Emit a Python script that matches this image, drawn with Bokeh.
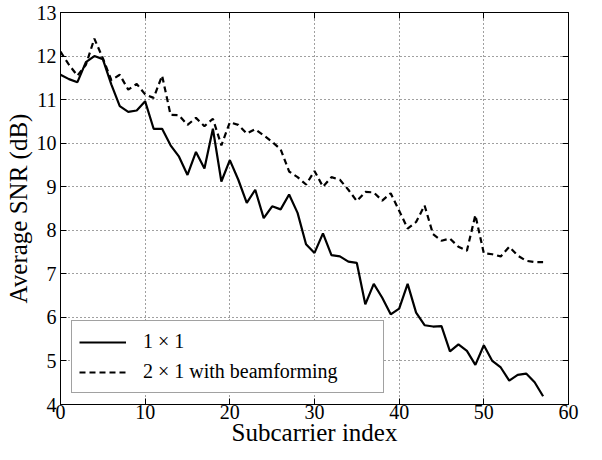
from bokeh.plotting import figure
from bokeh.models import LinearAxis, FixedTicker, Legend, LegendItem, Range1d
from bokeh.embed import file_html
from bokeh.resources import INLINE

subcarrier = list(range(58))
snr_1x1 = [11.57, 11.47, 11.40, 11.86, 12.00, 11.93, 11.35, 10.85, 10.72, 10.75,
           10.96, 10.33, 10.33, 9.95, 9.69, 9.27, 9.80, 9.42, 10.33, 9.12,
           9.61, 9.16, 8.63, 8.93, 8.28, 8.55, 8.48, 8.82, 8.40, 7.68,
           7.48, 7.93, 7.43, 7.40, 7.28, 7.25, 6.30, 6.77, 6.45, 6.07,
           6.20, 6.77, 6.11, 5.82, 5.79, 5.80, 5.22, 5.38, 5.23, 4.91,
           5.36, 5.00, 4.85, 4.55, 4.68, 4.71, 4.51, 4.19]
snr_2x1_bf = [12.10, 11.80, 11.55, 11.80, 12.40, 11.95, 11.45, 11.57, 11.23, 11.36,
              11.12, 11.04, 11.55, 10.65, 10.64, 10.42, 10.58, 10.39, 10.56, 9.95,
              10.48, 10.42, 10.22, 10.32, 10.18, 10.03, 9.86, 9.35, 9.22, 9.05,
              9.36, 9.00, 9.22, 9.16, 8.93, 8.67, 8.88, 8.87, 8.68, 8.85,
              8.45, 8.04, 8.19, 8.57, 7.91, 7.76, 7.81, 7.62, 7.53, 8.35,
              7.47, 7.45, 7.40, 7.62, 7.42, 7.30, 7.27, 7.27]
x_ticks = [0, 10, 20, 30, 40, 50, 60]
y_ticks = [4, 5, 6, 7, 8, 9, 10, 11, 12, 13]
labels = ["1 \u00d7 1", "2 \u00d7 1 with beamforming"]

FONT = "Liberation Serif"

p = figure(width=594, height=452, output_backend="svg", toolbar_location=None,
           x_range=Range1d(0, 60), y_range=Range1d(4, 13),
           min_border_left=60, min_border_right=26, min_border_top=12,
           min_border_bottom=48)
p.background_fill_color = "white"
p.border_fill_color = "white"
p.outline_line_color = "black"
p.outline_line_width = 1

r1 = p.line(subcarrier, snr_1x1, line_color="black", line_width=2.2)
r2 = p.line(subcarrier, snr_2x1_bf, line_color="black", line_width=2.2,
            line_dash="6 4")

for ax, ticks in ((p.xaxis[0], x_ticks), (p.yaxis[0], y_ticks)):
    ax.ticker = FixedTicker(ticks=ticks)
    ax.major_tick_in = 6
    ax.major_tick_out = 0
    ax.minor_tick_line_color = None
    ax.axis_line_color = "black"
    ax.major_tick_line_color = "black"
    ax.major_label_text_font = FONT
    ax.major_label_text_font_size = "20px"
    ax.major_label_text_color = "black"
    ax.axis_label_text_font = FONT
    ax.axis_label_text_font_size = "25px"
    ax.axis_label_text_font_style = "normal"
    ax.axis_label_text_color = "black"

p.xaxis[0].major_label_standoff = 0
p.xaxis[0].axis_label_standoff = -3
p.yaxis[0].major_label_standoff = 4
p.yaxis[0].axis_label_standoff = 2
p.xaxis[0].axis_label = "Subcarrier index"
p.yaxis[0].axis_label = "Average SNR (dB)"

for loc, ticks in (("right", y_ticks), ("above", x_ticks)):
    a = LinearAxis(ticker=FixedTicker(ticks=ticks), major_tick_in=6,
                   major_tick_out=0, minor_tick_line_color=None,
                   major_label_text_font_size="1px",
                   major_label_text_color=None, major_label_standoff=0,
                   axis_line_color="black", major_tick_line_color="black")
    p.add_layout(a, loc)

for g, ticks in ((p.xgrid[0], x_ticks), (p.ygrid[0], y_ticks)):
    g.ticker = FixedTicker(ticks=ticks)
    g.grid_line_color = "black"
    g.grid_line_alpha = 0.75
    g.grid_line_dash = "1 3"
    g.grid_line_width = 1

legend = Legend(items=[LegendItem(label=labels[0], renderers=[r1]),
                       LegendItem(label=labels[1], renderers=[r2])],
                location=(11, 11), margin=0, padding=7, spacing=3,
                label_height=27, glyph_width=47, glyph_height=20,
                label_standoff=17, label_width=233,
                label_text_font=FONT, label_text_font_size="20px",
                label_text_color="black",
                border_line_color="#444444", border_line_width=1,
                background_fill_color="white", background_fill_alpha=1)
p.add_layout(legend, "center")

open("out.html", "w").write(file_html(p, INLINE))
